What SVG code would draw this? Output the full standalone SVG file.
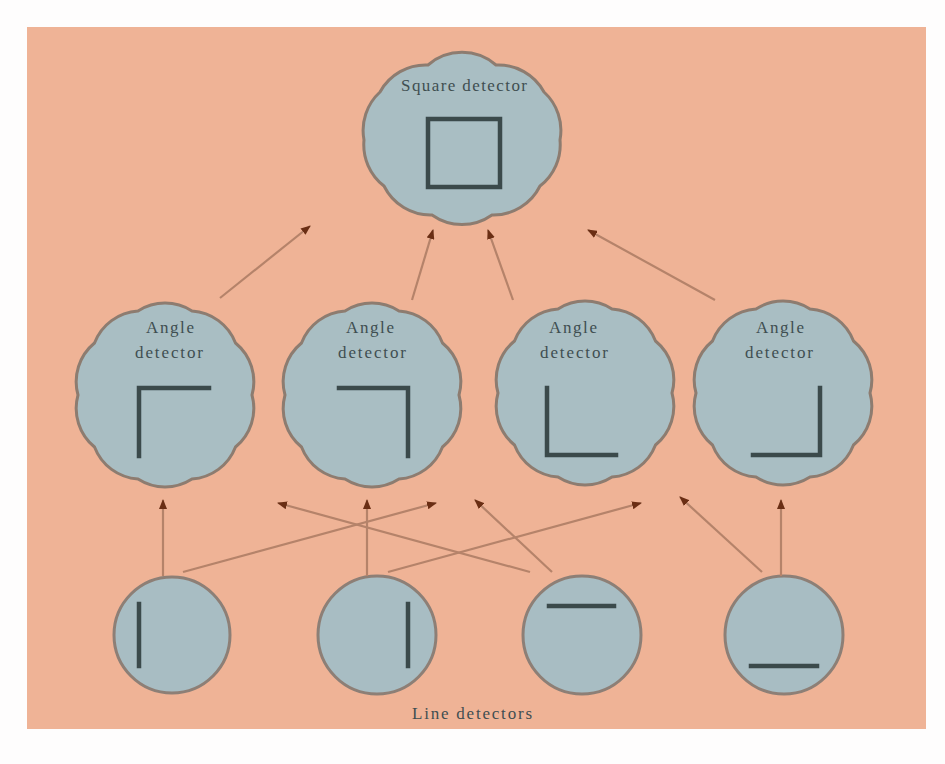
<svg xmlns="http://www.w3.org/2000/svg" width="945" height="764" viewBox="0 0 945 764">
<style>
.cloud{fill:#a9bec3;stroke:#8d7c70;stroke-width:3}
.disc{fill:#a8bdc3;stroke:#8d7f76;stroke-width:3}
.bar{stroke:#3b4a4b;stroke-width:4.5;fill:none;stroke-linecap:square}
.lbl{font-family:"Liberation Serif","DejaVu Serif",serif;font-size:17px;fill:#3f4e51;text-anchor:middle}
.conn line{stroke:#b5836a;stroke-width:2.2;marker-end:url(#ah)}
</style>
<defs>
<marker id="ah" markerUnits="userSpaceOnUse" markerWidth="10" markerHeight="8" refX="9" refY="4" orient="auto">
<path d="M0,0 L10,4 L0,8 z" fill="#6a2e14"/>
</marker>
<path id="acl" d="M-27,-84 A50 50 0 0 1 27,-84 A50 50 0 0 1 70.5,-52 A50 50 0 0 1 87,0 A50 50 0 0 1 70.5,52 A50 50 0 0 1 27,84 A50 50 0 0 1 -27,84 A50 50 0 0 1 -70.5,52 A50 50 0 0 1 -87,0 A50 50 0 0 1 -70.5,-52 A50 50 0 0 1 -27,-84 Z"/>
</defs>
<rect x="0" y="0" width="945" height="764" fill="#fefdfd"/>
<rect x="27" y="27" width="899" height="702" fill="#efb396"/>

<g id="square-detector">
<path class="cloud" transform="translate(462,140)" d="M-34,-75 A52 52 0 0 1 34,-75 A52 52 0 0 1 82,-48 A52 52 0 0 1 98,0 A52 52 0 0 1 78,46 A52 52 0 0 1 30,75 A52 52 0 0 1 -30,75 A52 52 0 0 1 -78,46 A52 52 0 0 1 -98,0 A52 52 0 0 1 -82,-48 A52 52 0 0 1 -34,-75 Z"/>
<text class="lbl" x="464" y="91" textLength="126" lengthAdjust="spacing">Square detector</text>
<rect class="bar" x="428" y="119" width="72" height="68"/>
</g>

<g id="angle-1">
<use href="#acl" class="cloud" transform="translate(165,395)"/>
<text class="lbl" x="170" y="333" textLength="48" lengthAdjust="spacing">Angle</text>
<text class="lbl" x="169" y="358" textLength="68" lengthAdjust="spacing">detector</text>
<path class="bar" d="M209,388 H139 V456"/>
</g>
<g id="angle-2">
<use href="#acl" class="cloud" transform="translate(372,395)"/>
<text class="lbl" x="370" y="333" textLength="48" lengthAdjust="spacing">Angle</text>
<text class="lbl" x="372" y="358" textLength="68" lengthAdjust="spacing">detector</text>
<path class="bar" d="M339,388 H408 V456"/>
</g>
<g id="angle-3">
<use href="#acl" class="cloud" transform="translate(585,393)"/>
<text class="lbl" x="573" y="333" textLength="48" lengthAdjust="spacing">Angle</text>
<text class="lbl" x="574" y="358" textLength="68" lengthAdjust="spacing">detector</text>
<path class="bar" d="M547,388 V455 H616"/>
</g>
<g id="angle-4">
<use href="#acl" class="cloud" transform="translate(783,393)"/>
<text class="lbl" x="780" y="333" textLength="48" lengthAdjust="spacing">Angle</text>
<text class="lbl" x="779" y="358" textLength="68" lengthAdjust="spacing">detector</text>
<path class="bar" d="M820,388 V455 H753"/>
</g>

<g id="line-1">
<circle class="disc" cx="172" cy="635" r="58"/>
<line class="bar" x1="139" y1="604" x2="139" y2="666"/>
</g>
<g id="line-2">
<circle class="disc" cx="377" cy="635" r="59"/>
<line class="bar" x1="408" y1="604" x2="408" y2="666"/>
</g>
<g id="line-3">
<circle class="disc" cx="582" cy="635" r="59"/>
<line class="bar" x1="549" y1="606" x2="614" y2="606"/>
</g>
<g id="line-4">
<circle class="disc" cx="784" cy="635" r="59"/>
<line class="bar" x1="751" y1="666" x2="817" y2="666"/>
</g>

<text class="lbl" x="472" y="719" textLength="120" lengthAdjust="spacing">Line detectors</text>

<g id="connectors" class="conn">
<line x1="220" y1="298" x2="310" y2="226"/>
<line x1="412" y1="300" x2="433" y2="230"/>
<line x1="513" y1="300" x2="488" y2="230"/>
<line x1="715" y1="300" x2="588" y2="230"/>
<line x1="163" y1="576" x2="163" y2="500"/>
<line x1="183" y1="572" x2="436" y2="503"/>
<line x1="367" y1="576" x2="367" y2="500"/>
<line x1="388" y1="572" x2="641" y2="503"/>
<line x1="530" y1="572" x2="278" y2="503"/>
<line x1="552" y1="572" x2="475" y2="500"/>
<line x1="762" y1="572" x2="680" y2="497"/>
<line x1="781" y1="576" x2="781" y2="500"/>
</g>
</svg>
